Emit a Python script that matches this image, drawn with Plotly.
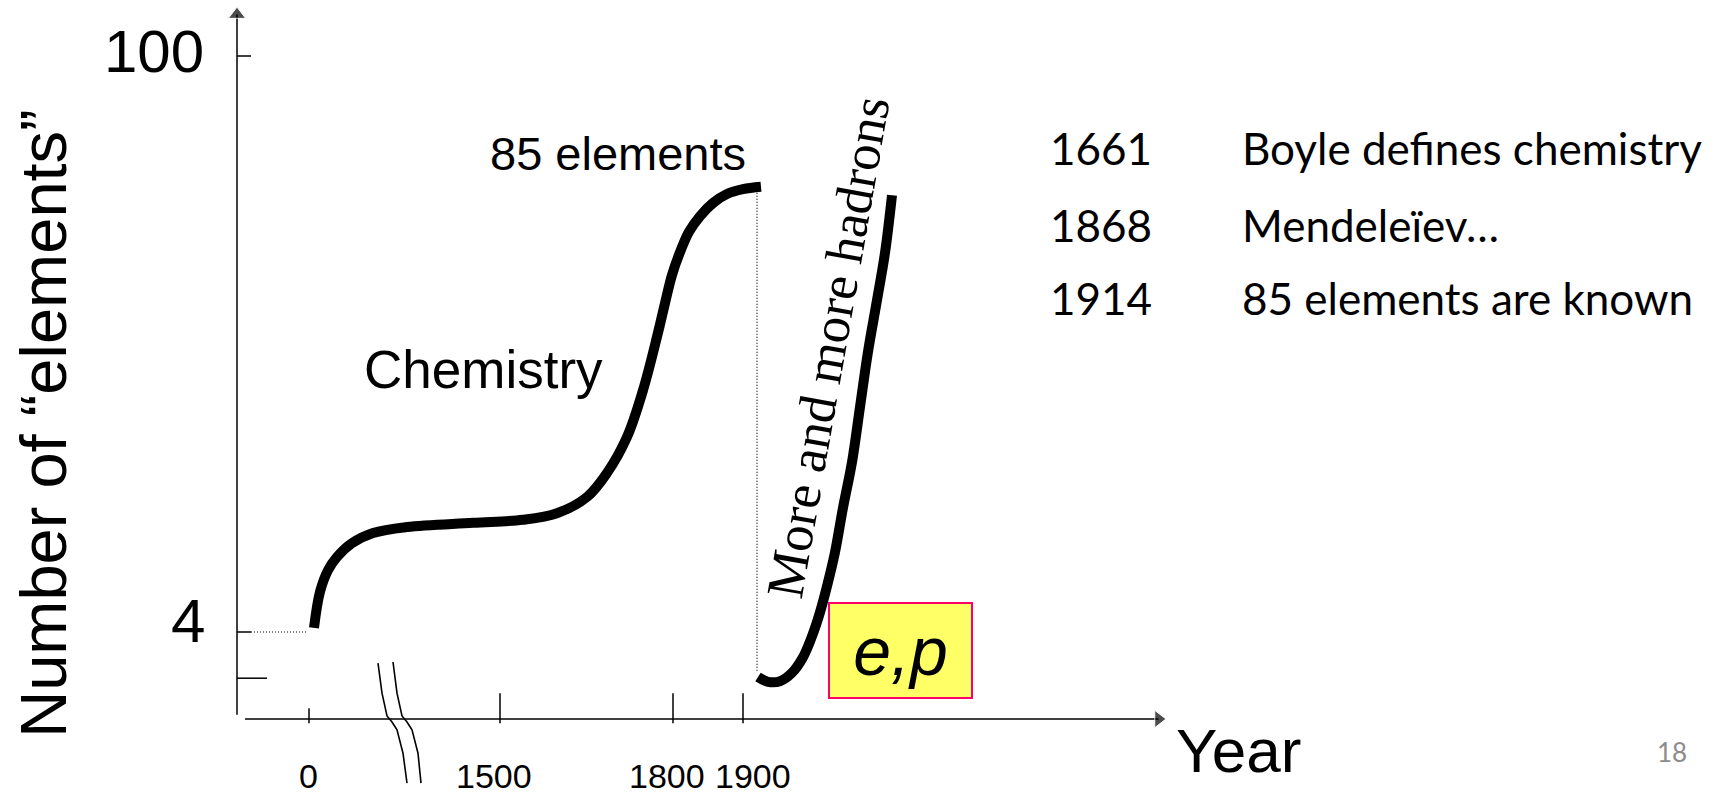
import plotly.graph_objects as go

# ---------------- data (schematic units) ----------------
# x: schematic timeline units (broken axis), y: number of "elements" (schematic)
x_tick_labels = ["0", "1500", "1800", "1900"]
x_tick_vals = [0.0, 19.1, 36.4, 43.4]
x_tick_label_shift = [-1, -6, -6, 10]          # label nudges (px)
y_tick_labels = ["4", "100"]
y_tick_vals = [4, 100]
ep_level = -3.7                                # unlabeled lower tick (e, p)

chem_x = [0.5, 1.1, 1.9, 2.8, 4.3, 6.4, 9.8, 16.4, 21.4, 24.8, 27.8, 29.8,
          31.8, 33.4, 34.8, 35.6, 36.3, 37.1, 38.0, 39.1, 40.4, 41.8, 43.4, 45.2]
chem_y = [4.7, 10.7, 14.3, 16.5, 18.8, 20.5, 21.5, 22.2, 22.7, 23.8, 26.5, 30.5,
          36.5, 44.3, 53.2, 58.8, 63.5, 67.3, 70.7, 73.3, 75.5, 77.0, 77.8, 78.2]

had_x = [44.9, 45.9, 47.1, 48.3, 49.4, 50.3, 51.1, 51.9, 52.6, 53.4, 54.3,
         55.1, 55.9, 56.8, 57.6, 58.3]
had_y = [-3.5, -4.3, -4.2, -2.8, -0.2, 3.3, 7.3, 12.3, 17.3, 24.7, 32.3,
         41.5, 50.7, 59.3, 67.2, 76.8]

break1_x = [6.9, 7.3, 7.8, 8.3, 8.8, 9.4, 9.8]
break1_y = [-1.2, -6.2, -10.0, -11.0, -12.3, -16.2, -21.2]
break2_x = [8.4, 8.8, 9.3, 9.8, 10.3, 10.9, 11.2]
break2_y = [-1.0, -6.2, -10.0, -11.0, -12.3, -16.2, -21.2]

timeline_years = ["1661", "1868", "1914"]
timeline_events = ["Boyle defines chemistry", "Mendeleïev…", "85 elements are known"]

# axis geometry (schematic units)
y_axis_x = -7.2
x_axis_y = -10.5
y_axis_bottom, y_axis_tip = -9.8, 106.9
x_axis_left, x_axis_tip = -6.4, 84.95
chem_end_x, chem_end_y = 44.8, 77.7

SANS = "Liberation Sans, Arial, sans-serif"
CAL = "Lato, Carlito, Calibri, sans-serif"
SERIF = "Liberation Serif, Cambria, serif"

fig = go.Figure()

def seg(xs, ys, width=1.5, dash="solid", color="black"):
    fig.add_trace(go.Scatter(x=xs, y=ys, mode="lines", hoverinfo="skip",
                             line=dict(color=color, width=width, dash=dash)))

# axes with arrow heads
fig.add_trace(go.Scatter(x=[y_axis_x, y_axis_x], y=[y_axis_bottom, y_axis_tip],
                         mode="lines+markers", hoverinfo="skip",
                         line=dict(color="black", width=1.5),
                         marker=dict(symbol=["circle", "triangle-up"], size=[0, 15],
                                     color="black")))
fig.add_trace(go.Scatter(x=[x_axis_left, x_axis_tip], y=[x_axis_y, x_axis_y],
                         mode="lines+markers", hoverinfo="skip",
                         line=dict(color="black", width=1.5),
                         marker=dict(symbol=["circle", "triangle-right"], size=[0, 15],
                                     color="black")))

# y ticks
for v in y_tick_vals:
    seg([y_axis_x, y_axis_x + 1.4], [v, v])
seg([y_axis_x + 1.4, chem_x[0] - 0.6], [y_tick_vals[0], y_tick_vals[0]],
    width=1.2, dash="1px,2px")
seg([y_axis_x, y_axis_x + 3.0], [ep_level, ep_level])

# x ticks
for i, xv in enumerate(x_tick_vals):
    top = x_axis_y + (1.8 if i == 0 else 4.3)
    seg([xv, xv], [top, x_axis_y - 0.7])

# axis break marks
seg(break1_x, break1_y, width=1.6)
seg(break2_x, break2_y, width=1.6)

# vertical dotted at end of chemistry
seg([chem_end_x, chem_end_x], [chem_end_y, -2.7], width=1.2, dash="1px,2px")

# curves
fig.add_trace(go.Scatter(x=chem_x, y=chem_y, mode="lines", hoverinfo="skip",
                         line=dict(color="black", width=10, shape="spline", smoothing=1.0)))
fig.add_trace(go.Scatter(x=had_x, y=had_y, mode="lines", hoverinfo="skip",
                         line=dict(color="black", width=10, shape="spline", smoothing=1.0)))

ann = []
def txt(x, y, t, size, family=SANS, xanchor="center", yanchor="middle", color="black",
        angle=0, xshift=0, yshift=0):
    ann.append(dict(x=x, y=y, text=t, showarrow=False, xanchor=xanchor, yanchor=yanchor,
                    textangle=angle, xshift=xshift, yshift=yshift,
                    font=dict(size=size, family=family, color=color)))

# tick labels
for lab, xv, sh in zip(x_tick_labels, x_tick_vals, x_tick_label_shift):
    txt(xv, -20.0, lab, 34, xshift=sh)
txt(-10.3, y_tick_vals[1], y_tick_labels[1], 60, xanchor="right", yshift=4.5)
txt(-10.2, y_tick_vals[0], y_tick_labels[0], 62, xanchor="right", yshift=11.5)

# axis titles
txt(-26.5, 38.7, "Number of “elements”", 65, angle=-90)
txt(86.5, -15.75, "Year", 62, xanchor="left")

# curve labels
txt(43.9, 83.8, "85 elements", 47, xanchor="right")
txt(5.3, 47.8, "Chemistry", 53, xanchor="left")
txt(51.9, 51.5, "More and more hadrons", 53, family=SERIF, angle=-80)

# e,p box
ann.append(dict(x=59.15, y=0.9, text="<i>e,p</i>", showarrow=False,
                xanchor="center", yanchor="middle", width=141, height=93,
                bgcolor="#FFFF66", bordercolor="#FF0066", borderwidth=2, borderpad=0,
                font=dict(size=68, family=SANS, color="black")))

# timeline list
for i, (yr, ev) in enumerate(zip(timeline_years, timeline_events)):
    yv = [84.6, 71.8, 59.7][i]
    txt(73.9, yv, yr, 44, family=CAL, xanchor="left")
    txt(93.1, yv, ev, 44, family=CAL, xanchor="left")

# page number
txt(136.3, -16.0, "18", 26, family=CAL, color="#8C8C8C")

fig.update_layout(
    width=1723, height=797, margin=dict(l=0, r=0, t=0, b=0),
    paper_bgcolor="white", plot_bgcolor="white", showlegend=False,
    xaxis=dict(range=[-30.9, 141.4], visible=False, fixedrange=True),
    yaxis=dict(range=[-23.5, 109.333], visible=False, fixedrange=True),
    annotations=ann,
)

fig.write_html("out.html", config={"displayModeBar": False},
               post_script="document.body.style.margin='0';")
